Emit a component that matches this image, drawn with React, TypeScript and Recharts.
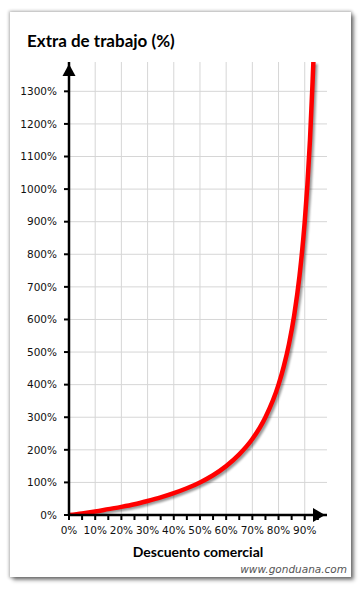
import { LineChart, Line, XAxis, YAxis, CartesianGrid, ReferenceDot } from 'recharts';

// descuento comercial (%) and extra de trabajo (%)
const descuento = [0, 5, 10, 15, 20, 25, 30, 35, 40, 45, 50, 55, 60, 65, 70, 75, 80, 82, 84, 86, 88, 90, 91, 92, 93, 93.3];
const extra = [0, 5, 11, 18, 25, 33, 43, 54, 67, 82, 100, 122, 150, 186, 233, 300, 400, 456, 525, 614, 733, 900, 1011, 1150, 1329, 1390];

const xTicks = [0, 5, 10, 15, 20, 25, 30, 35, 40, 45, 50, 55, 60, 65, 70, 75, 80, 85, 90, 95];
const yTicks = [0, 100, 200, 300, 400, 500, 600, 700, 800, 900, 1000, 1100, 1200, 1300];
const gridX = [10, 20, 30, 40, 50, 60, 70, 80, 90];

const data = descuento.map((d, i) => ({ d, e: extra[i] }));

const tickStyle = { fontFamily: 'DejaVu Sans', fontSize: 10.5, fill: '#111' };

const UpArrow = (p: any) => (
  <polygon points={`${p.cx},${p.cy + 2} ${p.cx - 6.5},${p.cy + 14} ${p.cx + 6.5},${p.cy + 14}`} fill='#000' />
);
const RightArrow = (p: any) => (
  <polygon points={`${p.cx - 2},${p.cy} ${p.cx - 14},${p.cy - 7} ${p.cx - 14},${p.cy + 7}`} fill='#000' />
);

const App = () => {
  return (
    <div style={{ position: 'absolute', left: 0, top: 0, width: 362, height: 591, background: '#fff' }}>
      <style>{`.recharts-line-curve { filter: drop-shadow(2px 2px 1px rgba(0,0,0,0.4)); }`}</style>
      <div
        style={{
          position: 'absolute',
          left: 10,
          top: 12,
          width: 341,
          height: 565,
          background: '#fff',
          boxShadow: '0 0 3px 1px rgba(0,0,0,0.3), 3px 3px 4px rgba(0,0,0,0.45)',
        }}
      />
      <div
        style={{
          position: 'absolute',
          left: 27,
          top: 30,
          fontFamily: 'Lato',
          fontWeight: 'bold',
          fontSize: 17,
          color: '#000',
          whiteSpace: 'nowrap',
        }}
      >
        Extra de trabajo (%)
      </div>
      <div style={{ position: 'absolute', left: 0, top: 0 }}>
        <LineChart width={362} height={591} data={data} margin={{ top: 62, right: 35, bottom: 46, left: 0 }}>
          <CartesianGrid stroke='#d6d6d6' verticalValues={gridX} horizontalValues={yTicks.slice(1)} />
          <XAxis
            type='number'
            dataKey='d'
            domain={[0, 98.5]}
            ticks={xTicks}
            interval={0}
            height={30}
            tickFormatter={(v: number) => (v % 10 === 0 && v < 95 ? `${v}%` : '')}
            tick={tickStyle}
            tickSize={5}
            tickMargin={7}
            axisLine={{ stroke: '#000', strokeWidth: 2.5 }}
            tickLine={{ stroke: '#000', strokeWidth: 2 }}
          />
          <YAxis
            type='number'
            domain={[0, 1390]}
            ticks={yTicks}
            interval={0}
            width={69}
            tickFormatter={(v: number) => `${v}%`}
            tick={tickStyle}
            tickSize={5}
            tickMargin={7}
            axisLine={{ stroke: '#000', strokeWidth: 2.5 }}
            tickLine={{ stroke: '#000', strokeWidth: 2 }}
            allowDataOverflow
          />
          <Line
            type='monotone'
            dataKey='e'
            stroke='#ff0000'
            strokeWidth={4.5}
            dot={false}
            isAnimationActive={false}
          />
          <ReferenceDot x={0} y={1390} r={0} shape={UpArrow} ifOverflow='visible' />
          <ReferenceDot x={98.5} y={0} r={0} shape={RightArrow} ifOverflow='visible' />
        </LineChart>
      </div>
      <div
        style={{
          position: 'absolute',
          left: 0,
          width: 396,
          top: 543,
          textAlign: 'center',
          fontFamily: 'Lato',
          fontWeight: 'bold',
          fontSize: 14,
          color: '#000',
        }}
      >
        Descuento comercial
      </div>
      <div
        style={{
          position: 'absolute',
          right: 15,
          top: 563,
          fontFamily: 'DejaVu Sans',
          fontStyle: 'italic',
          fontSize: 10.5,
          color: '#555',
        }}
      >
        www.gonduana.com
      </div>
    </div>
  );
};

export default App;
